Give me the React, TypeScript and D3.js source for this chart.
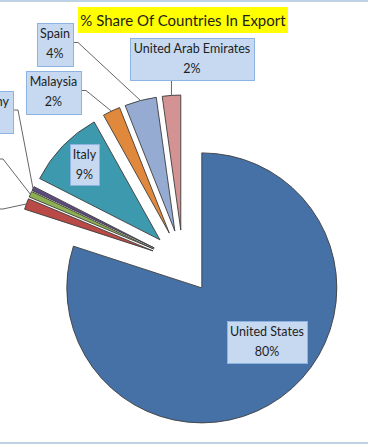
import React from 'react';
import * as d3 from 'd3';

// slices in clockwise order starting at 12 o'clock
const countries = ['United States', 'United Kingdom', 'France', 'Germany', 'Italy', 'Malaysia', 'Spain', 'United Arab Emirates'];
const shares = [80.0, 1.3, 0.7, 0.5, 9.4, 2.1, 3.8, 2.2];
const sliceColors = ['#4571A7', '#B94A47', '#8FB052', '#5E4A80', '#3D99AD', '#E0893D', '#95ABD2', '#D39392'];

const TITLE = '% Share Of Countries In Export';

const W = 368;
const H = 445;
const CX = 183;
const CY = 262;
const R = 135;
const EXPLODE = 32;

// label boxes (layout only): x, y, w, h, where the leader leaves the box
type LabelBox = { x: number; y: number; w: number; h: number; anchor: 'none' | 'right' | 'bottom' };
const labelBoxes: LabelBox[] = [
  { x: 227, y: 321, w: 80, h: 42, anchor: 'none' },
  { x: -88, y: 190, w: 86, h: 42, anchor: 'right' },
  { x: -60, y: 140, w: 58, h: 42, anchor: 'right' },
  { x: -45, y: 91, w: 58, h: 42, anchor: 'right' },
  { x: 70, y: 144, w: 29, h: 41, anchor: 'none' },
  { x: 26, y: 71, w: 55, h: 43, anchor: 'right' },
  { x: 37, y: 23, w: 36, h: 43, anchor: 'right' },
  { x: 130, y: 38, w: 124, h: 42, anchor: 'bottom' },
];

const FONT = 'Lato, "Open Sans", sans-serif';

export default function App() {
  const pie = d3.pie<number>().sort(null).value(d => d);
  const arcs = pie(shares);
  const arcGen = d3.arc<d3.PieArcDatum<number>>().innerRadius(0).outerRadius(R);

  const mid = (a: d3.PieArcDatum<number>) => (a.startAngle + a.endAngle) / 2;

  return (
    <div style={{ position: 'absolute', left: 0, top: 0 }}>
      <svg width={W} height={H} style={{ display: 'block', background: '#fff' }}>
        <line x1={0} x2={W} y1={1} y2={1} stroke="#A9C6DE" strokeWidth={1.5} />
        <line x1={0} x2={W} y1={443} y2={443} stroke="#A9C6DE" strokeWidth={1.5} />

        {arcs.map((a, i) => {
          const m = mid(a);
          const dx = EXPLODE * Math.sin(m);
          const dy = -EXPLODE * Math.cos(m);
          return (
            <path
              key={countries[i]}
              d={arcGen(a) || ''}
              transform={`translate(${CX + dx},${CY + dy})`}
              fill={sliceColors[i]}
              stroke="#3c3c3c"
              strokeWidth={0.9}
              strokeLinejoin="round"
            />
          );
        })}

        {arcs.map((a, i) => {
          const b = labelBoxes[i];
          if (b.anchor === 'none') return null;
          const m = mid(a);
          const ex = CX + (EXPLODE + R) * Math.sin(m);
          const ey = CY - (EXPLODE + R) * Math.cos(m);
          let pts: [number, number][];
          if (b.anchor === 'right') {
            const sy = b.y + b.h / 2 - 2;
            pts = [[b.x + b.w, sy], [b.x + b.w + 5, sy], [ex, ey]];
          } else {
            pts = [[ex, b.y + b.h], [ex, ey]];
          }
          return (
            <polyline
              key={'l' + i}
              points={pts.map(p => p.join(',')).join(' ')}
              fill="none"
              stroke="#555"
              strokeWidth={0.9}
            />
          );
        })}

        {arcs.map((a, i) => {
          const b = labelBoxes[i];
          const tx = b.x + b.w / 2;
          return (
            <g key={'b' + i}>
              <rect x={b.x + 0.5} y={b.y + 0.5} width={b.w} height={b.h} fill="#C6D9F1" stroke="#8DB3E2" strokeWidth={1} />
              <text x={tx} y={b.y + 15} textAnchor="middle" fontFamily={FONT} fontSize={12.5} fill="#1e1e1e">
                {countries[i]}
              </text>
              <text x={tx} y={b.y + 35} textAnchor="middle" fontFamily={FONT} fontSize={12.5} fill="#1e1e1e">
                {`${Math.round(shares[i])}%`}
              </text>
            </g>
          );
        })}

        <rect x={78} y={7} width={210} height={26} fill="#FFFF00" />
        <text x={183} y={26} textAnchor="middle" fontFamily={FONT} fontSize={15} fill="#1e1e1e">
          {TITLE}
        </text>
      </svg>
    </div>
  );
}
